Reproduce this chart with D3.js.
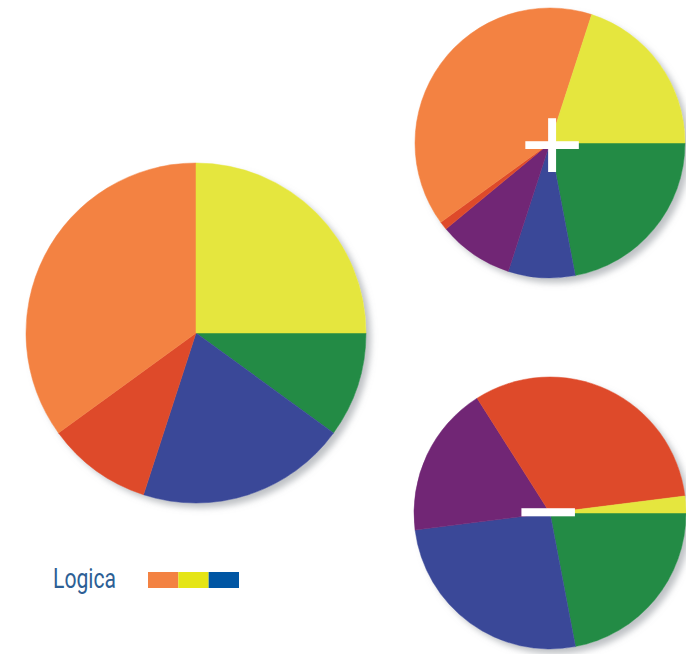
<!DOCTYPE html>
<html>
<head>
<meta charset="utf-8">
<script src="https://d3js.org/d3.v7.min.js"></script>
<style>
  body { margin: 0; background: #fff; }
</style>
</head>
<body>
<svg id="vis"></svg>
<script>
// slice order, clockwise from 3 o'clock
var categories = ["green", "blue", "purple", "red", "orange", "yellow"];
var sliceColors = ["#238b45", "#3a4898", "#712675", "#de4a2a", "#f38242", "#e5e63e"];

// values in percent, same order as categories
var mainValues  = [10, 20, 0, 10, 35, 25];
var plusValues  = [22, 8, 9, 1, 40, 20];
var minusValues = [22, 26, 18, 32, 0, 2];

var legendLabel = "Logica";
var legendColors = ["#f38242", "#e5e516", "#0056a4"];

var width = 686, height = 654;

var svg = d3.select("#vis")
    .attr("width", width)
    .attr("height", height);

// soft grey drop shadow behind each pie
var defs = svg.append("defs");
var shadow = defs.append("filter")
    .attr("id", "shadow")
    .attr("x", "-20%").attr("y", "-20%")
    .attr("width", "140%").attr("height", "140%");
shadow.append("feDropShadow")
    .attr("dx", 5).attr("dy", 5)
    .attr("stdDeviation", 3)
    .attr("flood-color", "#8a9096")
    .attr("flood-opacity", 0.55);

var color = d3.scaleOrdinal().domain(categories).range(sliceColors);

var pie = d3.pie()
    .sort(null)
    .value(function(d) { return d.value; })
    .startAngle(Math.PI / 2)
    .endAngle(Math.PI / 2 + 2 * Math.PI);

function drawPie(values, cx, cy, r) {
    var data = categories.map(function(c, i) { return { key: c, value: values[i] }; });
    var arc = d3.arc().innerRadius(0).outerRadius(r);
    var g = svg.append("g")
        .attr("transform", "translate(" + cx + "," + cy + ")");
    g.append("circle")
        .attr("r", r)
        .attr("fill", "#fff")
        .attr("filter", "url(#shadow)");
    g.selectAll("path")
        .data(pie(data).filter(function(d) { return d.data.value > 0; }))
        .join("path")
        .attr("d", arc)
        .attr("fill", function(d) { return color(d.data.key); })
        .attr("stroke", function(d) { return color(d.data.key); })
        .attr("stroke-width", 0.5);
    return g;
}

drawPie(mainValues, 196, 333, 170);
drawPie(plusValues, 550, 143, 135);
drawPie(minusValues, 550, 513, 136);

// + and - signs
svg.append("text")
    .attr("x", 552).attr("y", 142 + 40)
    .attr("text-anchor", "middle")
    .style("font-family", "Liberation Sans, Arial, sans-serif")
    .style("font-size", "110px")
    .attr("fill", "#fff")
    .text("+");

svg.append("text")
    .attr("x", 548).attr("y", 512 + 37)
    .attr("text-anchor", "middle")
    .style("font-family", "Liberation Sans, Arial, sans-serif")
    .style("font-size", "110px")
    .attr("fill", "#fff")
    .text("\u2212");

// legend
svg.append("text")
    .attr("x", 53).attr("y", 588)
    .attr("textLength", 63)
    .attr("lengthAdjust", "spacingAndGlyphs")
    .style("font-family", "Liberation Sans Narrow, Roboto, sans-serif")
    .style("font-size", "27px")
    .attr("fill", "#2d5f95")
    .text(legendLabel);

var lx = d3.scaleBand().domain(d3.range(legendColors.length)).range([148, 239]);
svg.selectAll("rect.legend")
    .data(legendColors)
    .join("rect")
    .attr("class", "legend")
    .attr("x", function(d, i) { return lx(i); })
    .attr("y", 572)
    .attr("width", lx.bandwidth())
    .attr("height", 16)
    .attr("fill", function(d) { return d; });
</script>
</body>
</html>
